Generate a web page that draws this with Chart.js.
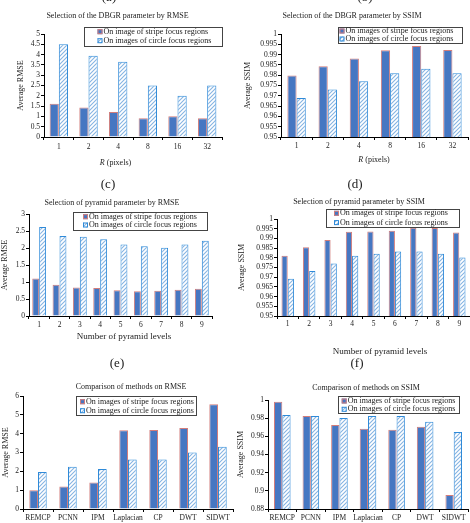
<!DOCTYPE html>
<html><head><meta charset="utf-8">
<script src="https://cdn.jsdelivr.net/npm/chart.js@4/dist/chart.umd.min.js"></script>
<style>
html,body{margin:0;padding:0;background:#fff;width:470px;height:523px;overflow:hidden;position:relative}
canvas{position:absolute}
.lab{position:absolute;font-family:'Liberation Serif',serif;font-size:13px;color:#222;width:40px;text-align:center;line-height:13px;height:13px;opacity:0.999;will-change:transform}
</style></head><body>
<div class="lab" style="left:89px;top:-10px">(a)</div>
<div class="lab" style="left:345px;top:-10px">(b)</div>
<div class="lab" style="left:88px;top:177px">(c)</div>
<div class="lab" style="left:335px;top:177px">(d)</div>
<div class="lab" style="left:97px;top:356px">(e)</div>
<div class="lab" style="left:337px;top:356px">(f)</div>
<script>
// ---------- data ----------
const rCategories = ['1', '2', '4', '8', '16', '32'];
const rmseStripeR = [1.62, 1.43, 1.21, 0.91, 1.01, 0.91];
const rmseCircleR = [4.5, 3.95, 3.65, 2.5, 2.0, 2.5];
const ssimStripeR = [0.9798, 0.9844, 0.9881, 0.9921, 0.9942, 0.9922];
const ssimCircleR = [0.9689, 0.9731, 0.9771, 0.9810, 0.9831, 0.9810];

const levelCategories = ['1', '2', '3', '4', '5', '6', '7', '8', '9'];
const rmseStripeL = [1.10, 0.92, 0.84, 0.82, 0.755, 0.725, 0.745, 0.775, 0.80];
const rmseCircleL = [2.62, 2.35, 2.33, 2.26, 2.10, 2.05, 2.01, 2.10, 2.21];
const ssimStripeL = [0.981, 0.9854, 0.9892, 0.9934, 0.9935, 0.9940, 0.9955, 0.9954, 0.9931];
const ssimCircleL = [0.9692, 0.9732, 0.9771, 0.9811, 0.9821, 0.9832, 0.9832, 0.9821, 0.9801];

const methodCategories = ['REMCP', 'PCNN', 'IPM', 'Laplacian', 'CP', 'DWT', 'SIDWT'];
const rmseStripeM = [0.99, 1.2, 1.41, 4.18, 4.2, 4.3, 5.56];
const rmseCircleM = [1.96, 2.24, 2.12, 2.63, 2.63, 3.0, 3.3];
const ssimStripeM = [0.998, 0.9824, 0.9725, 0.9684, 0.9673, 0.9706, 0.8954];
const ssimCircleM = [0.9835, 0.9824, 0.9802, 0.9824, 0.9824, 0.9761, 0.9648];

// y-axis ranges [min, max, step]
const rmseAxisR = [0, 5, 0.5];
const ssimAxisR = [0.95, 1, 0.005];
const rmseAxisL = [0, 3, 0.5];
const ssimAxisL = [0.95, 1, 0.005];
const rmseAxisM = [0, 6, 1];
const ssimAxisM = [0.88, 1, 0.02];

const stripeLabelA = 'On image of stripe focus regions';
const stripeLabel = 'On images of stripe focus regions';
const circleLabel = 'On images of circle focus regions';

// ---------- styles ----------
const FF = '"Liberation Serif", "Times New Roman", serif';
const TXT = '#222';
const stripeFill = '#4677c2';
const stripeBorder = '#d27d7b';
const circleBorder = '#2f8ad8';
function makeHatch() {
  const c = document.createElement('canvas'); c.width = 4; c.height = 4;
  const g = c.getContext('2d');
  g.fillStyle = '#ffffff'; g.fillRect(0, 0, 4, 4);
  g.strokeStyle = '#86b4e2'; g.lineWidth = 1.1;
  g.beginPath();
  g.moveTo(0, 4); g.lineTo(4, 0);
  g.moveTo(-1, 1); g.lineTo(1, -1);
  g.moveTo(3, 5); g.lineTo(5, 3);
  g.stroke();
  return g.createPattern(c, 'repeat');
}
const hatch = makeHatch();

const extras = {
  id: 'extras',
  afterLayout(chart, args, o) {
    const tb = chart.titleBlock;
    if (tb && o.titleCx != null) {
      const w = tb.right - tb.left;
      tb.left = o.titleCx - w / 2; tb.right = o.titleCx + w / 2;
    }
  },
  afterDraw(chart, args, o) {
    const ctx = chart.ctx;
    ctx.save();
    const L = o.legend;
    if (L) {
      ctx.fillStyle = '#fff'; ctx.fillRect(L.x, L.y, L.w, L.h);
      ctx.strokeStyle = '#444'; ctx.lineWidth = 1;
      ctx.strokeRect(Math.round(L.x) + 0.5, Math.round(L.y) + 0.5, Math.round(L.w), Math.round(L.h));
      chart.data.datasets.forEach((ds, i) => {
        const cy = L.y + L.off + i * L.gap;
        const mx = L.x + L.mx;
        ctx.fillStyle = ds.backgroundColor;
        ctx.fillRect(mx, cy - 2.5, 5, 5);
        ctx.strokeStyle = ds.borderColor;
        ctx.strokeRect(mx + 0.5, cy - 2, 4, 4);
        ctx.fillStyle = TXT;
        ctx.font = '8px ' + FF;
        ctx.textBaseline = 'middle'; ctx.textAlign = 'left';
        ctx.fillText(ds.label, mx + 6, cy);
      });
    }
    const X = o.xTitle;
    if (X) {
      ctx.fillStyle = TXT; ctx.textBaseline = 'middle'; ctx.textAlign = 'left';
      let total = 0;
      X.parts.forEach(p => { ctx.font = (p.it ? 'italic ' : '') + X.size + 'px ' + FF; p.w = ctx.measureText(p.t).width; total += p.w; });
      let x = X.cx - total / 2;
      X.parts.forEach(p => { ctx.font = (p.it ? 'italic ' : '') + X.size + 'px ' + FF; ctx.fillText(p.t, x, X.cy); x += p.w; });
    }
    ctx.restore();
  }
};

function fmt(v) { return String(Number(v.toFixed(4))); }

function panel(p) {
  const cv = document.createElement('canvas');
  cv.width = p.box[2]; cv.height = p.box[3];
  cv.style.left = p.box[0] + 'px'; cv.style.top = p.box[1] + 'px';
  cv.style.width = p.box[2] + 'px'; cv.style.height = p.box[3] + 'px';
  document.body.appendChild(cv);
  const ox = p.box[0], oy = p.box[1];
  new Chart(cv, {
    type: 'bar',
    data: {
      labels: p.labels,
      datasets: [
        { label: p.names[0], data: p.s1, backgroundColor: stripeFill, borderColor: stripeBorder, borderWidth: 1, categoryPercentage: p.cat, barPercentage: 1 },
        { label: p.names[1], data: p.s2, backgroundColor: hatch, borderColor: circleBorder, borderWidth: 1, categoryPercentage: p.cat, barPercentage: 1 }
      ]
    },
    options: {
      responsive: false, animation: false, devicePixelRatio: 1,
      layout: { padding: { left: 0, right: p.padR, top: 0, bottom: 0 } },
      plugins: {
        legend: { display: false }, tooltip: { enabled: false },
        title: { display: true, text: p.title, color: TXT, font: { family: FF, size: 8, weight: 'normal' }, padding: { top: p.tTop, bottom: p.tBot } },
        extras: {
          titleCx: p.titleCx - ox,
          legend: { x: p.leg[0] - ox, y: p.leg[1] - oy, w: p.leg[2], h: p.leg[3], mx: p.leg[4], off: p.leg[5], gap: p.leg[6] },
          xTitle: p.xt ? { parts: p.xt.parts, cx: p.xt.cx - ox, cy: p.xt.cy - oy, size: p.xt.size } : null
        }
      },
      scales: {
        x: {
          ticks: { color: TXT, font: { family: FF, size: 7.5 }, padding: p.xPad, autoSkip: false, maxRotation: 0 },
          grid: { display: true, drawOnChartArea: false, drawTicks: true, tickLength: 3, color: '#000', offset: true },
          border: { display: true, color: '#000', width: 1 },
          afterFit(s) { s.height = p.xH; }
        },
        y: {
          min: p.axis[0], max: p.axis[1],
          ticks: { stepSize: p.axis[2], autoSkip: false, color: TXT, font: { family: FF, size: 7.5 }, padding: 1, callback: fmt },
          grid: { display: true, drawOnChartArea: false, drawTicks: true, tickLength: 3, color: '#000' },
          border: { display: true, color: '#000', width: 1 },
          title: { display: true, text: p.ytitle, color: TXT, font: { family: FF, size: 8 }, padding: { top: p.yTp, bottom: 0 } },
          afterFit(s) { s.width = p.yW; }
        }
      }
    },
    plugins: [extras]
  });
}

// (a)
panel({ box: [0, 4, 235, 164], labels: rCategories, s1: rmseStripeR, s2: rmseCircleR, names: [stripeLabelA, circleLabel],
  axis: rmseAxisR, cat: 0.62, title: 'Selection of the DBGR parameter by RMSE', titleCx: 117.5, tTop: 7.2, tBot: 13.2,
  padR: 13, yW: 44, xH: 31, xPad: 3, yTp: 16, ytitle: 'Average RMSE',
  leg: [84, 27, 138, 19, 13.5, 4.7, 9],
  xt: { parts: [{ t: 'R', it: true }, { t: ' (pixels)' }], cx: 115.5, cy: 163, size: 8 } });
// (b)
panel({ box: [235, 4, 235, 161], labels: rCategories, s1: ssimStripeR, s2: ssimCircleR, names: [stripeLabel, circleLabel],
  axis: ssimAxisR, cat: 0.59, title: 'Selection of the DBGR parameter by SSIM', titleCx: 352, tTop: 7.2, tBot: 13.2,
  padR: 2, yW: 46, xH: 28, xPad: 2, yTp: 8, ytitle: 'Average SSIM',
  leg: [338, 27, 124, 16, 1.5, 4, 8],
  xt: { parts: [{ t: 'R', it: true }, { t: ' (pixels)' }], cx: 374, cy: 160, size: 8 } });
// (c)
panel({ box: [0, 190, 235, 152], labels: levelCategories, s1: rmseStripeL, s2: rmseCircleL, names: [stripeLabel, circleLabel],
  axis: rmseAxisL, cat: 0.68, title: 'Selection of pyramid parameter by RMSE', titleCx: 112, tTop: 8.2, tBot: 6.2,
  padR: 23, yW: 29, xH: 26, xPad: 2, yTp: 0, ytitle: 'Average RMSE',
  leg: [73, 212, 134, 18, 10, 4.7, 8.3],
  xt: { parts: [{ t: 'Number of pyramid levels' }], cx: 124, cy: 337, size: 9 } });
// (d)
panel({ box: [235, 190, 235, 167], labels: levelCategories, s1: ssimStripeL, s2: ssimCircleL, names: [stripeLabel, circleLabel],
  axis: ssimAxisL, cat: 0.58, title: 'Selection of pyramid parameter by SSIM', titleCx: 359, tTop: 7.2, tBot: 12.2,
  padR: 0, yW: 42, xH: 41, xPad: 1, yTp: 2, ytitle: 'Average SSIM',
  leg: [326, 209, 133, 18, 8, 4.3, 9.3],
  xt: { parts: [{ t: 'Number of pyramid levels' }], cx: 380, cy: 352, size: 9 } });
// (e)
panel({ box: [0, 370, 235, 153], labels: methodCategories, s1: rmseStripeM, s2: rmseCircleM, names: [stripeLabel, circleLabel],
  axis: rmseAxisM, cat: 0.58, title: 'Comparison of methods on RMSE', titleCx: 131, tTop: 12.2, tBot: 4.2,
  padR: 2, yW: 23, xH: 14, xPad: 2, yTp: 1, ytitle: 'Average RMSE',
  leg: [76, 396, 120, 19, 4, 5.7, 9], xt: null });
// (f)
panel({ box: [235, 370, 235, 153], labels: methodCategories, s1: ssimStripeM, s2: ssimCircleM, names: [stripeLabel, circleLabel],
  axis: ssimAxisM, cat: 0.58, title: 'Comparison of methods on SSIM', titleCx: 366, tTop: 13.2, tBot: 7.2,
  padR: 2, yW: 33, xH: 14, xPad: 2, yTp: 1, ytitle: 'Average SSIM',
  leg: [338, 396, 121, 17, 3.7, 5, 8.3], xt: null });
</script>
</body></html>
